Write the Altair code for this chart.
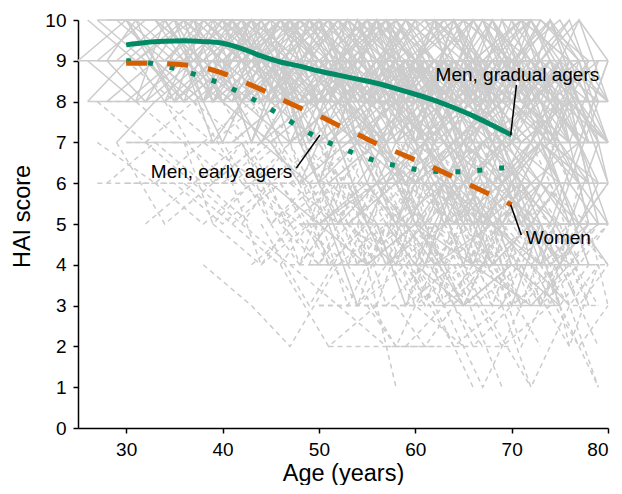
import altair as alt
import pandas as pd

# ---- individual trajectories (age:score), read/ ----
men_young = [
    "25:9 30:10 35:9 40:9 45:10", "26:9 31:8 36:9 41:10", "26:10 31:9 37:10 42:9 47:8",
    "26:8 30:9 35:10 40:9", "27:9 32:10 37:10 42:8 47:9", "27:10 32:9 36:8 41:9 46:10",
    "27:9 31:9 36:9 41:8 46:9", "28:8 33:9 38:8 43:9 48:9", "28:10 33:10 38:9 43:10 48:9",
    "28:9 32:8 37:9 42:10 47:8", "29:10 34:9 39:10 44:9 49:9", "29:9 34:10 39:8 44:9 49:10",
    "29:7 33:8 38:9 43:8", "30:9 35:9 40:10 45:9 50:8", "30:10 35:8 40:9 45:8 50:9",
    "30:8 35:9 40:8 45:7 50:8", "31:9 36:10 41:9 46:9 51:10", "31:10 36:9 41:8 46:10 51:9",
    "32:9 37:8 42:9 47:8 52:8", "32:8 37:10 42:10 47:9 52:7", "33:10 38:9 43:9 48:10 53:9",
    "33:9 38:8 43:10 48:8 53:8", "34:8 39:9 44:8 49:9 54:7", "34:10 39:10 44:9 49:8 54:9",
    "35:9 40:9 45:10 50:9 55:8", "35:10 40:8 45:9 50:10 55:9",
    "28:9 31:10 35:8 39:9 43:10", "31:9 34:8 38:10 42:9 46:7", "33:10 36:9 40:7 44:9 48:10",
    "35:8 38:10 42:9 46:10 50:8", "34:9 38:10 42:9 46:9 50:10 54:8",
    "30:10 33:9 36:10 39:8 42:9 45:10", "31:8 34:10 37:9 40:10 43:8 46:9",
    "32:10 35:10 38:8 41:9 44:10 47:9", "33:9 36:8 39:10 42:10 45:8 48:10",
    "34:10 37:9 40:9 43:7 46:9 49:8", "35:9 38:9 41:10 44:8 47:10 50:9",
    "36:9 39:7 42:8 45:9 48:7 51:8",
]
men_mid = [
    "36:9 41:10 46:8 51:9 56:9", "36:8 41:9 46:9 51:7 56:8", "37:10 42:9 47:10 52:8 57:9",
    "37:9 42:8 47:7 52:8 57:7", "38:9 43:10 48:9 53:9 58:8", "38:10 43:9 48:8 53:10 58:9",
    "39:8 44:9 49:10 54:9 59:8", "39:9 44:7 49:8 54:8 59:6", "40:10 45:10 50:9 55:8 60:9",
    "40:9 45:8 50:8 55:9 60:7", "40:8 45:9 50:7 55:7 60:8", "41:9 46:9 51:10 56:8 61:8",
    "41:10 46:8 51:9 56:9 61:9", "41:7 46:8 51:8 56:6 61:7", "42:9 47:10 52:9 57:10 62:8",
    "42:8 47:8 52:9 57:7 62:8", "42:10 47:9 52:7 57:8 62:9", "43:9 48:9 53:8 58:9 63:7",
    "43:8 48:10 53:9 58:8 63:8", "43:10 48:8 53:10 58:7 63:9", "44:9 49:8 54:9 59:9 64:8",
    "44:7 49:9 54:8 59:8 64:6", "44:10 49:10 54:8 59:10 64:9", "45:9 50:9 55:10 60:8 65:8",
    "45:8 50:7 55:8 60:9 65:7", "45:10 50:9 55:9 60:7 65:8", "46:9 51:8 56:8 61:9 66:9",
    "46:8 51:9 56:7 61:8 66:6", "46:10 51:10 56:9 61:8 66:7", "47:9 52:9 57:10 62:9 67:8",
    "47:7 52:8 57:8 62:6 67:7", "47:10 52:8 57:9 62:10 67:9", "48:8 53:9 58:7 63:8 68:8",
    "48:9 53:10 58:9 63:7 68:9", "48:6 53:7 58:8 63:7 68:5", "49:10 54:9 59:8 64:9 69:8",
    "49:9 54:8 59:9 64:8 69:7", "49:8 54:7 59:6 64:7 69:8", "50:9 55:10 60:9 65:9 70:8",
    "50:10 55:8 60:8 65:10 70:9", "50:7 55:8 60:7 65:6 70:7",
    "36:10 39:8 43:10 47:7 51:9", "37:9 40:10 44:8 48:9 52:10", "38:8 41:10 45:9 49:7 53:8",
    "39:10 42:8 46:9 50:10 54:8", "40:9 43:7 47:9 51:8 55:10", "41:8 44:10 48:8 52:9 56:7",
    "42:10 45:8 49:10 53:9 57:7", "43:7 46:9 50:8 54:10 58:8", "44:9 47:10 51:7 55:8 59:9",
    "45:10 48:7 52:9 56:8 60:10", "46:8 49:10 53:8 57:7 61:9", "47:9 50:8 54:10 58:9 62:7",
    "48:10 51:9 55:7 59:9 63:8", "49:7 52:9 56:10 60:8 64:9", "50:8 53:10 57:9 61:7 65:8",
    "36:10 40:9 44:10 48:8 52:9 56:10", "38:9 42:8 46:10 50:9 54:8 58:9",
    "40:10 44:9 48:9 52:8 56:9 60:8", "42:9 46:10 50:8 54:9 58:10 62:9",
    "44:8 48:9 52:10 56:9 60:8 64:9", "46:10 50:9 54:9 58:8 62:9 66:8",
    "48:9 52:8 56:10 60:9 64:7 68:8", "50:10 54:10 58:8 62:8 66:9 70:9",
    "45:7 48:6 52:8 56:7 60:5", "47:8 50:6 54:7 58:5 62:7", "48:7 52:5 56:6 60:8",
    "37:10 40:8 43:9 46:10 49:9 52:7", "39:9 42:10 45:8 48:9 51:10 54:9",
    "41:10 44:9 47:8 50:10 53:8 56:9", "43:9 46:8 49:9 52:10 55:9 58:7",
    "45:8 48:10 51:9 54:7 57:9 60:10", "47:10 50:9 53:8 56:10 59:8 62:9",
    "49:9 52:10 55:8 58:9 61:7 64:9", "44:7 47:8 50:6 53:8 56:7 59:8",
    "46:9 49:7 52:9 55:10 58:8 61:9", "48:8 51:8 54:10 57:8 60:9 63:10",
]
men_old = [
    "51:9 56:9 61:10 66:8 71:9", "51:8 56:10 61:8 66:9 71:7", "51:6 56:7 61:6 66:5 71:6",
    "52:10 57:9 62:9 67:8 72:10", "52:9 57:7 62:8 67:9 72:8", "52:8 57:8 62:7 67:7 72:6",
    "53:9 58:10 63:8 68:9 73:9", "53:7 58:8 63:9 68:7 73:8", "53:5 58:6 63:7 68:6 73:5",
    "54:10 59:9 64:10 69:8 74:9", "54:8 59:9 64:7 69:8 74:7", "54:9 59:8 64:8 69:6 74:7",
    "55:9 60:9 65:8 70:9 75:8", "55:10 60:10 65:9 70:7 75:8", "55:7 60:6 65:7 70:8 75:6",
    "56:8 61:9 66:9 71:8 76:7", "56:9 61:7 66:8 71:9 76:8", "56:6 61:7 66:5 71:6 76:6",
    "57:10 62:8 67:9 72:9 77:8", "57:9 62:9 67:7 72:8 77:9", "57:8 62:7 67:8 72:6 77:7",
    "58:9 63:10 68:8 73:10 78:9", "58:7 63:8 68:7 73:7 78:6", "58:5 63:6 68:5 73:4 78:5",
    "59:10 64:9 69:9 74:8 79:8", "59:8 64:9 69:8 74:9 79:7", "59:9 64:7 69:8 74:7 79:6",
    "60:9 65:10 70:9 75:8 80:7", "60:8 65:8 70:7 75:9 80:8", "60:6 65:7 70:6 75:5 80:5",
    "61:10 66:9 71:10 76:9", "61:9 66:8 71:8 76:7", "61:7 66:8 71:7 76:8",
    "62:9 67:9 72:10 77:8", "62:8 67:10 72:8 77:9", "62:6 67:5 72:6 77:4",
    "63:9 68:8 73:9 78:8", "63:10 68:10 73:8 78:7", "63:7 68:6 73:7 78:6",
    "64:8 69:9 74:8 79:9", "64:9 69:7 74:9 79:8", "64:5 69:6 74:4 79:5",
    "65:10 70:9 75:10 80:8", "65:9 70:8 75:7 80:7", "65:7 70:7 75:6 80:6",
    "66:9 71:10 76:9 80:9", "66:8 71:7 76:8 80:7", "67:10 72:9 77:8 80:7",
    "67:7 72:8 77:6 80:5", "68:9 72:10 76:8 80:8", "68:8 72:9 77:7",
    "69:10 73:10 77:9", "69:6 73:7 77:5 80:4", "70:9 74:10 78:8",
    "71:8 75:9 79:7", "72:10 76:8 80:7", "73:9 77:10 80:8",
    "51:10 54:7 58:8 62:9 66:10", "52:9 55:8 59:10 63:8 67:6", "53:8 56:9 60:7 64:10 68:8",
    "54:10 57:8 61:9 65:7 69:9", "55:8 58:10 62:8 66:9 70:7", "56:10 59:7 63:9 67:8 71:10",
    "57:7 60:9 64:8 68:10 72:8", "58:10 61:9 65:7 69:8 73:10", "59:8 62:10 66:9 70:6 74:8",
    "60:10 63:8 67:10 71:8 75:7", "61:8 64:9 68:7 72:9 76:10", "62:10 65:7 69:9 73:8 77:6",
    "63:8 66:10 70:8 74:7 78:9", "64:7 67:9 71:10 75:8 79:6", "65:10 68:8 72:7 76:9 80:8",
    "66:7 69:9 73:8 77:10 80:9", "67:9 70:7 74:10 77:8 80:6", "68:10 71:8 74:9 77:7 80:9",
    "69:8 72:10 75:9 78:7", "70:10 73:8 76:7 79:9", "71:9 74:7 77:9 80:6",
    "72:7 75:9 78:6", "73:8 76:6 79:8", "74:10 77:9 80:7",
    "52:8 56:9 60:9 64:10 68:8 72:7", "54:9 58:8 62:10 66:8 70:8 74:9",
    "56:10 60:9 64:8 68:9 72:9 76:7", "58:8 62:9 66:7 70:9 74:8 78:8",
    "60:9 64:8 68:9 72:8 76:9 80:7", "62:10 66:9 70:8 74:9 78:7",
    "50:6 53:8 57:6 61:7 65:5", "52:7 55:5 59:7 63:6 67:8", "54:6 57:7 61:5 65:7 69:6",
    "56:7 59:6 63:8 67:5 71:7", "58:6 61:8 65:6 69:7 73:5", "60:7 63:5 67:7 71:6 75:8",
    "62:8 65:6 69:5 73:7 77:6", "64:6 67:7 71:6 75:4 79:6", "66:5 69:7 73:6 77:5 80:6",
    "68:7 71:5 75:7 78:6", "70:6 73:7 76:5 79:7", "57:5 60:4 64:6 68:4 72:5",
    "61:4 64:6 68:5 72:4 76:3", "65:6 68:4 72:5 75:3", "53:6 57:4 61:5 65:6",
    "51:8 54:9 57:10 60:9 63:8 66:10", "53:10 56:8 59:9 62:7 65:9 68:8",
    "55:9 58:9 61:8 64:10 67:9 70:7", "57:10 60:8 63:9 66:8 69:10 72:9",
    "59:9 62:7 65:9 68:10 71:8 74:8", "61:10 64:10 67:8 70:9 73:7 76:9",
    "63:9 66:8 69:10 72:8 75:9 78:7", "65:8 68:10 71:9 74:7 77:8 80:8",
    "67:10 70:8 73:9 76:10 79:8", "69:9 72:9 75:8 78:9", "71:10 74:8 77:7 80:9",
    "52:8 55:6 58:8 61:7 64:6 67:8", "60:7 63:8 66:6 69:7 72:8 75:6", "66:8 69:6 72:7 75:8 78:5",
    "70:7 73:6 76:8 79:5", "54:9 57:10 60:7 63:9 66:10 69:9", "62:9 65:9 68:7 71:9 74:10 77:8",
    "56:9 59:10 62:9 65:8 68:9 71:9", "64:10 67:8 70:10 73:9 76:7 79:7",
    "55:6 58:5 61:7 64:5 67:6 70:4", "59:5 62:6 65:4 68:6 71:5 74:6",
    "63:6 66:4 69:6 72:5 75:6 78:4", "67:5 70:6 73:4 76:6 79:5",
    "57:7 60:5 63:6 66:7 69:5 72:6", "61:6 64:7 67:5 70:5 73:6 76:5",
    "65:5 68:7 71:6 74:5 77:7 80:5", "69:7 72:5 75:4 78:5",
]
men_flat = [
    "25:9 35:9 45:9 55:9", "55:9 65:9 78:9", "27:10 37:10 47:10", "47:10 60:10 72:10",
    "26:8 36:8 46:8", "46:8 58:8 70:8 77:8", "30:7 40:7 50:7", "50:7 60:7 70:7 80:7",
    "49:6 60:6 70:6 76:6", "48:5 58:5 68:5 80:5", "49:4 58:4 67:4 76:4", "62:3 68:3 75:3",
    "50:5 55:4 60:5 65:3 70:4", "55:4 60:5 66:4 72:3 76:4", "45:6 50:5 56:6 62:4 68:5",
    "60:4 65:3 70:4 75:3",
]
women_traj = [
    "27:8 32:7 37:6 42:7", "27:7 33:6 38:7 44:6", "28:6 33:7 38:6 43:5", "28:8 34:8 39:7 44:8",
    "29:7 34:5 39:6 44:7", "30:6 35:6 40:5 45:6", "30:9 35:8 40:8 45:7", "31:8 36:7 41:6 46:7",
    "32:7 37:8 42:7 47:5", "32:5 37:6 42:5 47:4", "33:6 38:5 43:6 48:5", "34:8 39:6 44:7 49:6",
    "35:7 40:7 45:5 50:6", "36:6 41:5 46:6 51:4", "37:8 42:6 47:6 52:5", "38:4 43:3 47:2 52:4",
    "38:7 43:8 48:6 53:7", "39:5 44:4 49:5 54:3", "40:6 45:7 50:5 55:6", "40:8 45:6 50:7 55:5",
    "41:5 46:4 51:2 56:3", "41:7 46:8 51:6 56:7", "42:6 47:5 52:6 57:4", "43:8 48:7 53:5 58:6",
    "43:4 48:5 53:4 58:2", "44:7 49:6 54:7 59:5", "44:5 49:3 54:5 58:1", "45:6 50:6 55:4 60:5",
    "45:8 50:7 55:7 60:6", "46:5 51:6 56:5 61:3", "46:7 51:5 56:6 61:6", "47:6 52:7 57:5 62:6",
    "47:4 52:3 57:2 62:2", "48:7 53:6 58:4 63:5", "48:5 53:5 58:6 63:4", "49:6 54:4 59:5 64:3",
    "49:8 54:7 59:6 64:7", "50:3 55:3 60:3 65:2", "50:5 55:6 60:4 66:1", "51:7 56:5 61:6 66:4",
    "51:6 56:7 61:5 66:5", "52:4 57:5 62:3 67:4", "52:8 57:6 62:7 67:5", "53:5 58:4 63:6 68:4",
    "53:7 58:7 63:5 68:6", "54:6 59:5 64:4 69:1", "54:3 59:4 64:2 69:3", "55:7 60:6 65:7 70:5",
    "55:5 60:3 65:4 70:4", "56:6 61:4 66:5 71:3", "56:8 61:7 66:6 71:6", "57:4 62:5 67:3 72:1",
    "57:6 62:6 67:4 72:5", "58:5 63:3 68:4 73:2", "58:7 63:6 68:5 73:6", "59:6 64:5 69:6 74:4",
    "59:3 64:4 69:2 74:3", "60:5 65:6 70:4 75:5", "60:7 65:5 70:6 75:4", "61:4 66:3 71:4 76:2",
    "61:6 66:6 71:5 76:6", "62:5 67:4 72:3 77:4", "63:7 68:5 73:6 78:5", "63:4 68:5 73:4 79:1",
    "64:6 69:4 74:5 79:3", "65:5 70:3 75:4 80:4", "66:6 71:5 76:4 80:5", "67:4 72:4 77:2 80:3",
    "68:5 73:3 77:4", "70:6 74:5 78:3", "72:4 76:5 80:4", "74:6 77:4 80:5",
    "51:2 57:2 63:2 67:2", "50:3 56:3 62:3", "47:4 55:4 62:4 70:4 79:4", "27:6 35:6 45:6",
    "30:7 37:7 44:7",
    "36:7 39:5 43:6 47:7 51:5", "39:6 42:7 46:5 50:4 54:6", "42:7 45:5 49:6 53:3 57:5",
    "44:6 47:7 51:4 55:5 59:6", "46:4 49:5 53:6 57:3 61:4", "48:6 51:4 55:5 59:7 63:5",
    "50:7 53:5 57:6 61:4 65:6", "52:5 55:7 59:4 63:5 67:3", "54:4 57:6 61:5 65:3 69:5",
    "56:5 59:3 63:5 67:6 71:4", "58:6 61:5 65:3 69:5 73:4", "60:4 63:6 67:5 71:2 75:4",
    "62:6 65:4 69:5 73:3 77:5", "64:3 67:5 71:3 75:4 79:2", "66:5 69:3 73:5 77:3 80:4",
    "68:4 71:6 75:3 78:4", "70:3 73:5 76:2 79:4", "45:7 48:8 52:6 56:7 60:5",
    "49:8 52:6 56:7 60:6 64:8", "53:7 56:8 60:6 64:5 68:7", "57:8 60:6 64:7 68:6 72:7",
    "61:7 64:8 68:6 72:7 76:5", "65:7 68:6 72:8 76:6 80:6", "55:3 58:2 62:4 66:2 70:3",
    "59:2 63:3 67:1 71:3", "69:3 72:1 76:3 79:1",
    "46:6 49:5 52:7 55:5 58:4 61:6", "50:6 53:4 56:6 59:5 62:7 65:5",
    "54:5 57:7 60:5 63:4 66:6 69:4", "58:4 61:6 64:5 67:7 70:5 73:5",
    "62:7 65:5 68:4 71:6 74:5 77:3", "66:4 69:6 72:5 75:6 78:4",
    "48:4 51:5 54:3 57:4 60:6 63:3", "56:3 59:5 62:4 65:5 68:3 71:5",
    "64:5 67:6 70:3 73:5 76:4 79:5", "42:5 45:6 48:4 51:5 54:7", "38:6 41:6 44:4 47:5",
    "45:5 48:4 51:6 54:4 57:5 60:3", "47:5 50:4 53:5 56:4 59:6 62:4",
    "49:4 52:6 55:4 58:5 61:3 64:5", "51:5 54:3 57:5 60:6 63:4 66:3",
    "53:4 56:5 59:3 62:5 65:4 68:6", "55:6 58:5 61:4 64:6 67:4 70:6",
    "57:5 60:4 63:3 66:4 69:5 72:3", "59:4 62:3 65:5 68:5 71:3 74:5",
    "61:5 64:3 67:4 70:6 73:3 76:5", "63:5 66:4 69:3 72:5 75:5 78:3",
    "65:4 68:3 71:5 74:3 77:6 80:3", "67:6 70:5 73:4 76:3 79:4", "69:5 72:6 75:5 78:5",
    "71:4 74:4 77:5 80:6", "73:5 76:3 79:3", "58:3 61:2 64:3 67:2 70:2",
]

# ---- fitted curves ----
curve_age = [30, 32, 34, 36, 38, 40, 42, 44, 46, 48, 50, 52, 54, 56, 58, 60, 62, 64, 66, 68, 70]
gradual_men = [9.39, 9.45, 9.48, 9.49, 9.47, 9.43, 9.30, 9.12, 8.97, 8.87, 8.75, 8.65, 8.55, 8.45,
               8.32, 8.18, 8.03, 7.85, 7.65, 7.42, 7.18]
women_fit = [8.94, 8.94, 8.93, 8.90, 8.83, 8.70, 8.50, 8.30, 8.07, 7.85, 7.65, 7.42, 7.20, 6.97,
             6.77, 6.57, 6.37, 6.15, 5.92, 5.70, 5.47]
early_men = [9.00, 8.96, 8.87, 8.75, 8.60, 8.42, 8.20, 7.95, 7.67, 7.37, 7.10, 6.90, 6.70, 6.54,
             6.43, 6.34, 6.29, 6.28, 6.30, 6.35, 6.40]

# ---- annotations ----
label_text = ["Men, gradual agers", "Men, early agers", "Women"]
label_age = [70.6, 39.9, 74.85]
label_score = [8.65, 6.27, 4.66]
lead_age1 = [70.5, 47.65, 69.9]
lead_score1 = [8.41, 6.37, 5.47]
lead_age2 = [69.9, 50.1, 71.0]
lead_score2 = [7.18, 7.18, 4.73]


def parse(trajs, prefix):
    rows = []
    for i, t in enumerate(trajs):
        for k, tok in enumerate(t.split()):
            a, s = tok.split(":")
            rows.append({"id": f"{prefix}{i}", "age": float(a), "score": float(s), "k": k})
    return pd.DataFrame(rows)


men_df = pd.concat([parse(men_young, "a"), parse(men_mid, "b"), parse(men_old, "c"),
                    parse(men_flat, "d")])
women_df = parse(women_traj, "w")
curves = pd.DataFrame({"age": curve_age, "gradual": gradual_men, "women": women_fit,
                       "early": early_men})
labels = pd.DataFrame({"t": label_text, "age": label_age, "score": label_score})
leaders = pd.DataFrame({"a1": lead_age1, "s1": lead_score1, "a2": lead_age2, "s2": lead_score2})

xs = alt.Scale(domain=[25, 80], nice=False, zero=False)
ys = alt.Scale(domain=[0, 10], nice=False)
X = alt.X("age:Q", scale=xs, title="Age (years)",
          axis=alt.Axis(values=[30, 40, 50, 60, 70, 80], titleY=52, titleBaseline="alphabetic"))
Y = alt.Y("score:Q", scale=ys, title="HAI score",
          axis=alt.Axis(values=list(range(11)), titleX=-49, titleY=196, titleAngle=270,
                        titleBaseline="alphabetic", titleAlign="center"))

GRAY = "#cccccc"
women_gray = alt.Chart(women_df).mark_line(color=GRAY, strokeWidth=1.5, strokeDash=[5, 4]).encode(
    x=X, y=Y, detail="id:N", order="k:Q")
men_gray = alt.Chart(men_df).mark_line(color=GRAY, strokeWidth=1.5).encode(
    x="age:Q", y="score:Q", detail="id:N", order="k:Q")

base = alt.Chart(curves)
gradual_line = base.mark_line(color="#008A66", strokeWidth=5, interpolate="monotone").encode(
    x="age:Q", y="gradual:Q")
women_line = base.mark_line(color="#D55E00", strokeWidth=5, strokeDash=[21, 20], strokeCap="butt",
                            interpolate="monotone").encode(x="age:Q", y="women:Q")
early_line = base.mark_line(color="#008A66", strokeWidth=5, strokeDash=[5, 17], strokeCap="butt",
                            interpolate="monotone").encode(x="age:Q", y="early:Q")

lead = alt.Chart(leaders).mark_rule(color="black", strokeWidth=1.5).encode(
    x="a1:Q", y="s1:Q", x2="a2:Q", y2="s2:Q")
txt = alt.Chart(labels).mark_text(font="Liberation Sans", fontSize=19, color="black",
                                  align="center", baseline="middle").encode(
    x="age:Q", y="score:Q", text="t:N")

chart = alt.layer(women_gray, men_gray, early_line, women_line, gradual_line, lead, txt).properties(
    width=530, height=408,
    autosize=alt.AutoSizeParams(type="none"),
    padding={"left": 70, "top": 12, "right": 2, "bottom": 57},
).configure_view(stroke=None).configure_axis(
    grid=False, domainColor="black", domainWidth=1.5, tickColor="black", tickWidth=1.5,
    tickSize=5, labelFont="Liberation Sans", labelFontSize=19, labelColor="black",
    labelPadding=7, titleFont="Liberation Sans", titleFontSize=23.5, titleFontWeight="normal",
    titleColor="black",
)

chart.save("out.html", embed_options={"renderer": "svg", "actions": False})
